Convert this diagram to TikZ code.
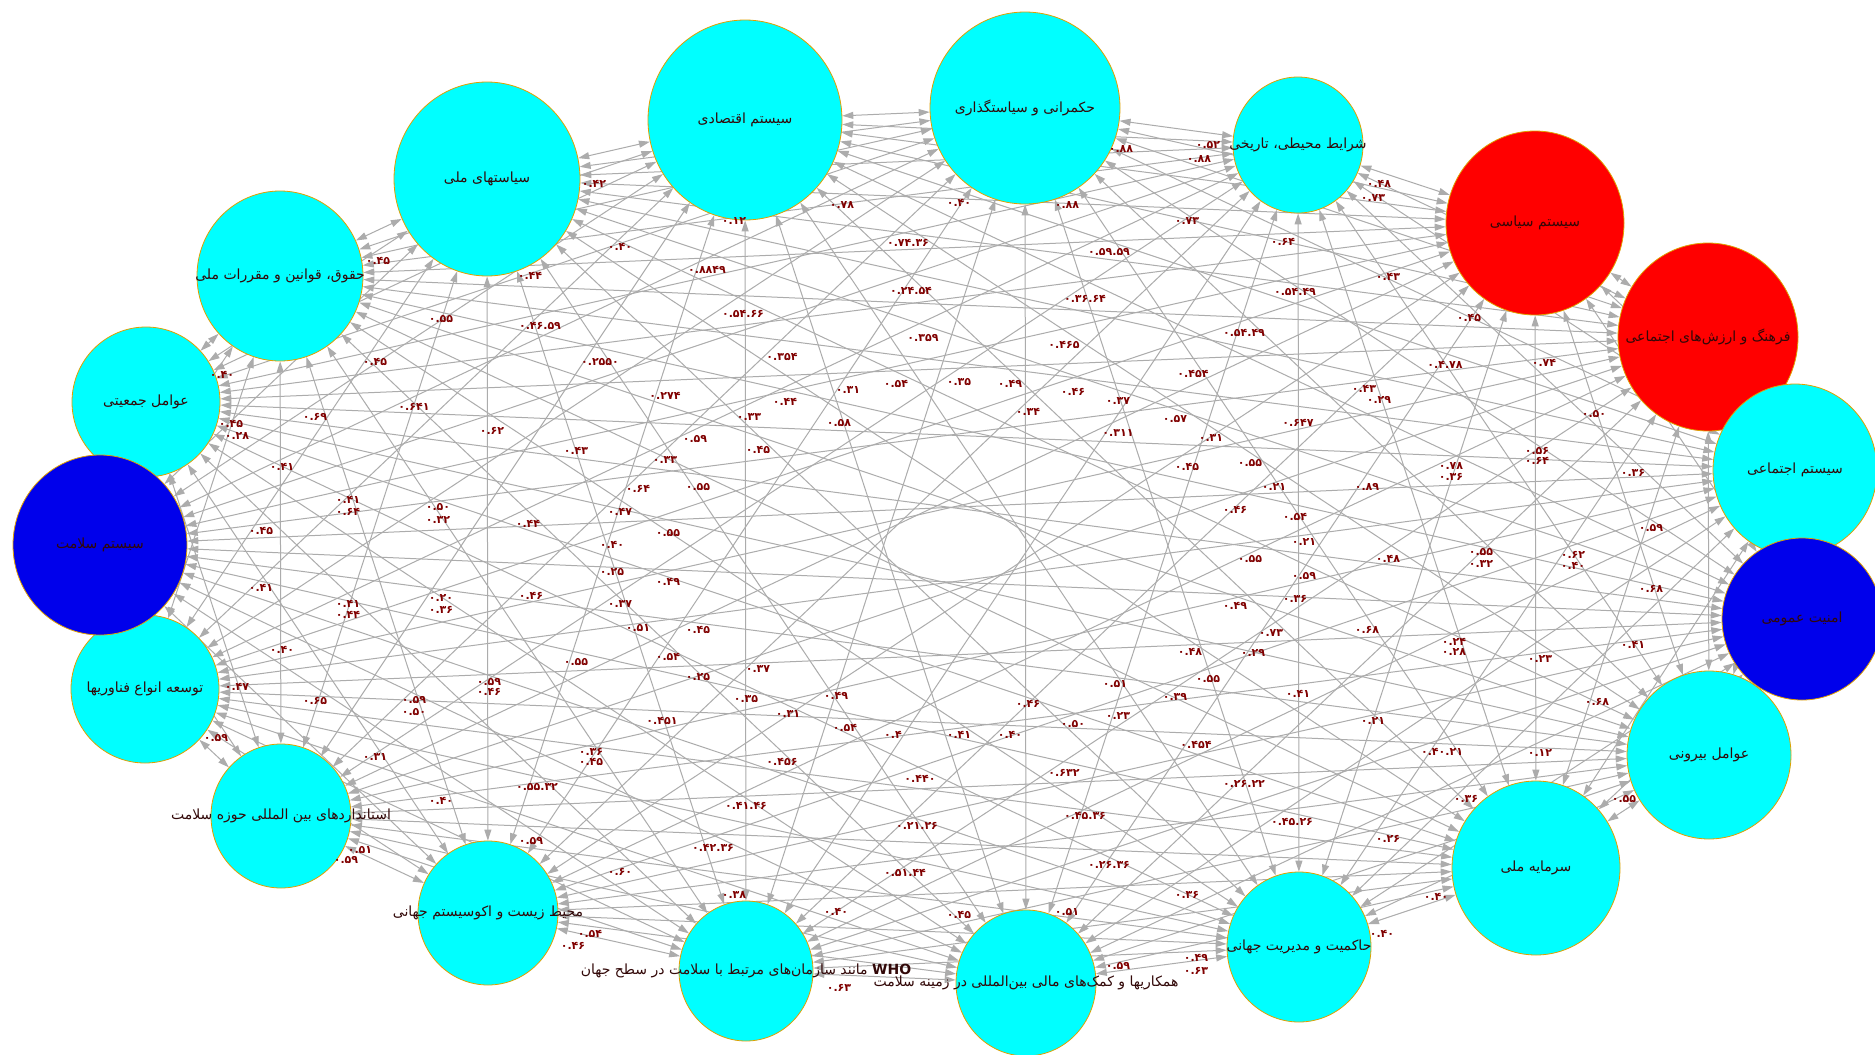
\documentclass[tikz,border=0pt]{standalone}
\usepackage{fontspec}
\newfontfamily\fa[Script=Arabic]{DejaVu Sans}
\TeXXeTstate=1
\usetikzlibrary{arrows.meta,shapes.geometric}
\pgfdeclarelayer{back}
\pgfdeclarelayer{bg}
\pgfsetlayers{back,bg,main}
\definecolor{cy}{RGB}{0,255,255}
\definecolor{rd}{RGB}{255,0,0}
\definecolor{bl}{RGB}{0,0,235}
\definecolor{bd}{RGB}{224,160,0}
\definecolor{eg}{RGB}{172,172,172}
\definecolor{mr}{RGB}{128,0,0}
\definecolor{tx}{RGB}{50,8,8}
\newcounter{lbc}
\newcommand\putlab[3]{\stepcounter{lbc}\node[elab] (lab\arabic{lbc}) at (#1,#2) {#3};}
\begin{document}
\begin{tikzpicture}[x=1pt,y=-1pt,
 vnode/.style={ellipse,draw=bd,line width=0.8pt,inner sep=0pt},
 ntext/.style={font=\fa\fontsize{14}{16}\selectfont,text=tx,inner sep=0pt},
 elab/.style={font=\fa\bfseries\fontsize{11}{12}\selectfont,text=mr,inner sep=0pt},
 edge/.style={draw=eg,line width=1pt,{Triangle[length=11pt,width=7pt]}-{Triangle[length=11pt,width=7pt]}}]
\begin{pgfonlayer}{back}
\fill[white] (0,0) rectangle (1875,1055);
\end{pgfonlayer}
\useasboundingbox (0,0) rectangle (1875,1055);
% nodes
\node[vnode,fill=cy,minimum width=148pt,minimum height=150pt] (n1) at (146,402) {};
\node[vnode,fill=cy,minimum width=166pt,minimum height=170pt] (n2) at (280,276) {};
\node[vnode,fill=cy,minimum width=186pt,minimum height=194pt] (n3) at (487,179) {};
\node[vnode,fill=cy,minimum width=194pt,minimum height=200pt] (n4) at (745,120) {};
\node[vnode,fill=cy,minimum width=190pt,minimum height=192pt] (n5) at (1025,108) {};
\node[vnode,fill=cy,minimum width=130pt,minimum height=136pt] (n6) at (1298,145) {};
\node[vnode,fill=rd,minimum width=178pt,minimum height=184pt] (n7) at (1535,223) {};
\node[vnode,fill=rd,minimum width=180pt,minimum height=188pt] (n8) at (1708,337) {};
\node[vnode,fill=cy,minimum width=164pt,minimum height=172pt] (n9) at (1795,470) {};
\node[vnode,fill=bl,minimum width=160pt,minimum height=162pt] (n10) at (1802,619) {};
\node[vnode,fill=cy,minimum width=164pt,minimum height=168pt] (n11) at (1709,755) {};
\node[vnode,fill=cy,minimum width=168pt,minimum height=174pt] (n12) at (1536,868) {};
\node[vnode,fill=cy,minimum width=144pt,minimum height=150pt] (n13) at (1299,947) {};
\node[vnode,fill=cy,minimum width=140pt,minimum height=146pt] (n14) at (1026,983) {};
\node[vnode,fill=cy,minimum width=134pt,minimum height=140pt] (n15) at (746,971) {};
\node[vnode,fill=cy,minimum width=140pt,minimum height=144pt] (n16) at (488,913) {};
\node[vnode,fill=cy,minimum width=140pt,minimum height=144pt] (n17) at (281,816) {};
\node[vnode,fill=cy,minimum width=148pt,minimum height=148pt] (n18) at (145,689) {};
\node[vnode,fill=bl,minimum width=174pt,minimum height=180pt] (n0) at (100,545) {};
% edges
\begin{pgfonlayer}{bg}
\foreach \i in {0,...,17}{
  \pgfmathtruncatemacro\s{\i+1}
  \foreach \j in {\s,...,18}{\draw[edge] (n\i) -- (n\j);}
}
\end{pgfonlayer}
% node texts
\node[ntext] (t0) at (n0) {\beginR سیستم سلامت\endR};
\node[ntext] (t1) at (n1) {\beginR عوامل جمعیتی\endR};
\node[ntext] (t2) at (n2) {\beginR حقوق، قوانین و مقررات ملی\endR};
\node[ntext] (t3) at (n3) {\beginR سیاستهای ملی\endR};
\node[ntext] (t4) at (n4) {\beginR سیستم اقتصادی\endR};
\node[ntext] (t5) at (n5) {\beginR حکمرانی و سیاستگذاری\endR};
\node[ntext] (t6) at (n6) {\beginR شرایط محیطی، تاریخی\endR};
\node[ntext] (t7) at (n7) {\beginR سیستم سیاسی\endR};
\node[ntext] (t8) at (n8) {\beginR فرهنگ و ارزش‌های اجتماعی\endR};
\node[ntext] (t9) at (n9) {\beginR سیستم اجتماعی\endR};
\node[ntext] (t10) at (n10) {\beginR امنیت عمومی\endR};
\node[ntext] (t11) at (n11) {\beginR عوامل بیرونی\endR};
\node[ntext] (t12) at (n12) {\beginR سرمایه ملی\endR};
\node[ntext] (t13) at (n13) {\beginR حاکمیت و مدیریت جهانی\endR};
\node[ntext] (t14) at (n14) {\beginR همکاریها و کمک‌های مالی بین‌المللی در زمینه سلامت\endR};
\node[ntext] (t15) at (n15) {\beginR\beginL{\bfseries WHO}\endL{} مانند سازمان‌های مرتبط با سلامت در سطح جهان\endR};
\node[ntext] (t16) at (n16) {\beginR محیط زیست و اکوسیستم جهانی\endR};
\node[ntext] (t17) at (n17) {\beginR استانداردهای بین المللی حوزه سلامت\endR};
\node[ntext] (t18) at (n18) {\beginR توسعه انواع فناوریها\endR};
% edge labels
\putlab{842}{205}{۰.۷۸}\putlab{734}{221}{۰.۱۲}\putlab{620}{247}{۰.۴۰}\putlab{908}{243}{۰.۷۴.۳۶}
\putlab{707}{270}{۰.۸۸۴۹}\putlab{530}{276}{۰.۴۴}\putlab{911}{291}{۰.۲۴.۵۴}\putlab{743}{314}{۰.۵۴.۶۶}
\putlab{441}{319}{۰.۵۵}\putlab{540}{326}{۰.۴۶.۵۹}\putlab{923}{338}{۰.۳۵۹}\putlab{782}{357}{۰.۳۵۴}
\putlab{600}{362}{۰.۲۵۵۰}\putlab{375}{362}{۰.۴۵}\putlab{665}{396}{۰.۲۷۴}\putlab{896}{384}{۰.۵۴}
\putlab{848}{390}{۰.۳۱}\putlab{785}{402}{۰.۴۴}\putlab{414}{407}{۰.۶۴۱}\putlab{315}{417}{۰.۶۹}
\putlab{839}{423}{۰.۵۸}\putlab{749}{417}{۰.۳۳}\putlab{492}{431}{۰.۶۲}\putlab{231}{424}{۰.۴۵}
\putlab{237}{436}{۰.۲۸}\putlab{695}{439}{۰.۵۹}\putlab{758}{450}{۰.۴۵}\putlab{576}{451}{۰.۴۳}
\putlab{665}{460}{۰.۳۳}\putlab{282}{467}{۰.۴۱}\putlab{638}{489}{۰.۶۴}\putlab{698}{487}{۰.۵۵}
\putlab{348}{500}{۰.۴۱}\putlab{348}{512}{۰.۶۴}\putlab{438}{507}{۰.۵۰}\putlab{438}{520}{۰.۳۲}
\putlab{528}{524}{۰.۴۴}\putlab{620}{512}{۰.۴۷}\putlab{378}{261}{۰.۴۵}\putlab{594}{184}{۰.۴۲}
\putlab{222}{375}{۰.۴۰}
\putlab{1208}{145}{۰.۵۲}\putlab{1199}{159}{۰.۸۸}\putlab{1121}{149}{۰.۸۸}\putlab{959}{203}{۰.۴۰}
\putlab{1067}{205}{۰.۸۸}\putlab{1379}{184}{۰.۴۸}\putlab{1373}{198}{۰.۷۳}\putlab{1187}{221}{۰.۷۳}
\putlab{1283}{242}{۰.۶۴}\putlab{1109}{252}{۰.۵۹.۵۹}\putlab{1388}{277}{۰.۴۳}\putlab{1295}{292}{۰.۵۴.۴۹}
\putlab{1085}{299}{۰.۳۶.۶۴}\putlab{1469}{318}{۰.۴۵}\putlab{1244}{333}{۰.۵۴.۴۹}\putlab{1064}{345}{۰.۴۶۵}
\putlab{1445}{365}{۰.۴.۷۸}\putlab{1544}{363}{۰.۷۴}\putlab{1193}{374}{۰.۴۵۴}\putlab{959}{382}{۰.۳۵}
\putlab{1010}{384}{۰.۴۹}\putlab{1073}{392}{۰.۴۶}\putlab{1118}{401}{۰.۳۷}\putlab{1364}{389}{۰.۴۳}
\putlab{1379}{400}{۰.۲۹}\putlab{1028}{412}{۰.۳۴}\putlab{1175}{419}{۰.۵۷}\putlab{1298}{423}{۰.۶۴۷}
\putlab{1594}{414}{۰.۵۰}\putlab{1118}{433}{۰.۳۱۱}\putlab{1211}{438}{۰.۳۱}\putlab{1537}{451}{۰.۵۶}
\putlab{1537}{461}{۰.۶۴}\putlab{1187}{467}{۰.۴۵}\putlab{1250}{463}{۰.۵۵}\putlab{1451}{466}{۰.۷۸}
\putlab{1451}{477}{۰.۳۶}\putlab{1633}{473}{۰.۳۶}\putlab{1274}{487}{۰.۲۱}\putlab{1367}{487}{۰.۸۹}
\putlab{1235}{510}{۰.۴۶}\putlab{1295}{517}{۰.۵۴}
\putlab{261}{531}{۰.۴۵}\putlab{668}{533}{۰.۵۵}\putlab{612}{545}{۰.۴۰}\putlab{612}{572}{۰.۲۵}
\putlab{668}{582}{۰.۴۹}\putlab{261}{588}{۰.۴۱}\putlab{531}{596}{۰.۴۶}\putlab{441}{598}{۰.۲۰}
\putlab{441}{610}{۰.۳۶}\putlab{348}{604}{۰.۴۱}\putlab{348}{615}{۰.۴۴}\putlab{620}{604}{۰.۳۷}
\putlab{638}{628}{۰.۵۱}\putlab{698}{630}{۰.۴۵}\putlab{282}{650}{۰.۴۰}\putlab{668}{657}{۰.۵۴}
\putlab{576}{662}{۰.۵۵}\putlab{758}{669}{۰.۳۷}\putlab{698}{677}{۰.۲۵}\putlab{489}{682}{۰.۵۹}
\putlab{489}{692}{۰.۴۶}\putlab{237}{687}{۰.۴۷}\putlab{836}{696}{۰.۴۹}\putlab{315}{701}{۰.۶۵}
\putlab{414}{700}{۰.۵۹}\putlab{414}{712}{۰.۵۰}\putlab{746}{699}{۰.۳۵}\putlab{788}{714}{۰.۳۱}
\putlab{662}{721}{۰.۴۵۱}\putlab{845}{728}{۰.۵۴}\putlab{893}{735}{۰.۴}\putlab{216}{738}{۰.۵۹}
\putlab{375}{757}{۰.۳۱}\putlab{591}{752}{۰.۳۶}\putlab{591}{762}{۰.۴۵}\putlab{782}{762}{۰.۴۵۶}
\putlab{920}{779}{۰.۴۴۰}\putlab{537}{787}{۰.۵۵.۳۲}\putlab{441}{801}{۰.۴۰}\putlab{746}{806}{۰.۴۱.۴۶}
\putlab{917}{826}{۰.۲۱.۲۶}\putlab{531}{841}{۰.۵۹}\putlab{713}{848}{۰.۴۲.۳۶}\putlab{360}{850}{۰.۵۱}
\putlab{346}{860}{۰.۵۹}\putlab{620}{872}{۰.۶۰}\putlab{905}{873}{۰.۵۱.۴۴}\putlab{734}{895}{۰.۳۸}
\putlab{836}{912}{۰.۴۰}\putlab{590}{934}{۰.۵۴}\putlab{573}{946}{۰.۴۶}\putlab{839}{988}{۰.۶۳}
\putlab{1651}{528}{۰.۵۹}\putlab{1304}{542}{۰.۲۱}\putlab{1250}{559}{۰.۵۵}\putlab{1388}{559}{۰.۴۸}
\putlab{1481}{552}{۰.۵۵}\putlab{1481}{564}{۰.۳۲}\putlab{1573}{555}{۰.۶۲}\putlab{1573}{566}{۰.۴۰}
\putlab{1304}{576}{۰.۵۹}\putlab{1651}{589}{۰.۶۸}\putlab{1295}{599}{۰.۳۶}\putlab{1235}{606}{۰.۴۹}
\putlab{1271}{633}{۰.۷۳}\putlab{1367}{630}{۰.۶۸}\putlab{1454}{642}{۰.۲۴}\putlab{1454}{652}{۰.۲۸}
\putlab{1540}{659}{۰.۲۳}\putlab{1633}{645}{۰.۴۱}\putlab{1190}{652}{۰.۴۸}\putlab{1253}{653}{۰.۲۹}
\putlab{1115}{684}{۰.۵۱}\putlab{1208}{679}{۰.۵۵}\putlab{1175}{697}{۰.۳۹}\putlab{1298}{694}{۰.۴۱}
\putlab{1597}{702}{۰.۶۸}\putlab{1028}{704}{۰.۴۶}\putlab{1118}{716}{۰.۲۳}\putlab{1073}{724}{۰.۵۰}
\putlab{959}{735}{۰.۴۱}\putlab{1010}{735}{۰.۴۰}\putlab{1373}{721}{۰.۲۱}\putlab{1196}{745}{۰.۴۵۴}
\putlab{1442}{752}{۰.۴۰.۲۱}\putlab{1540}{753}{۰.۱۲}\putlab{1064}{773}{۰.۶۳۲}\putlab{1244}{784}{۰.۲۶.۲۲}
\putlab{1466}{799}{۰.۳۶}\putlab{1624}{799}{۰.۵۵}\putlab{1085}{816}{۰.۴۵.۳۶}\putlab{1292}{822}{۰.۴۵.۲۶}
\putlab{1388}{839}{۰.۲۶}\putlab{1109}{865}{۰.۲۶.۳۶}\putlab{1187}{895}{۰.۳۶}\putlab{1436}{897}{۰.۴۰}
\putlab{959}{915}{۰.۴۵}\putlab{1067}{912}{۰.۵۱}\putlab{1382}{934}{۰.۴۰}\putlab{1196}{958}{۰.۴۹}
\putlab{1196}{971}{۰.۶۳}\putlab{1118}{966}{۰.۵۹}
\end{tikzpicture}
\end{document}
